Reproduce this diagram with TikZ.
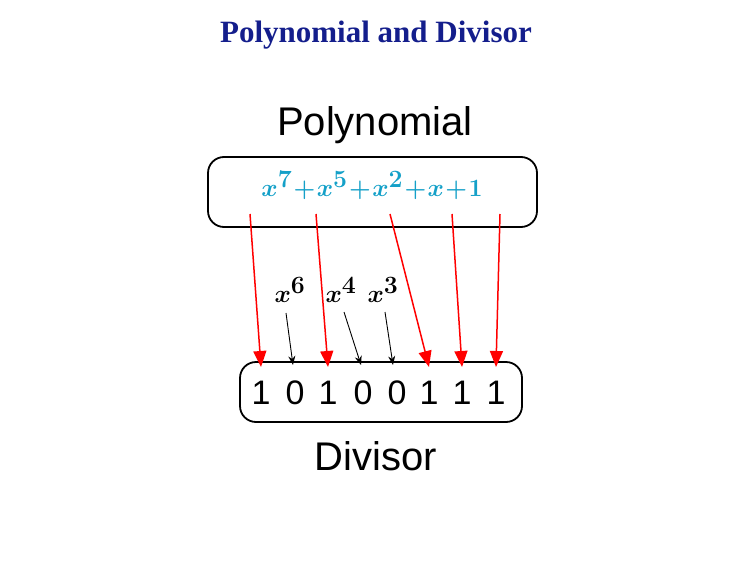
\documentclass[tikz,border=0pt]{standalone}
\usepackage{amsmath}
\usepackage{bm}
\usepackage{fontspec}
\setmainfont{Liberation Serif}
\setsansfont{Liberation Sans}
\usetikzlibrary{arrows.meta}
\definecolor{ttl}{RGB}{20,30,140}
\definecolor{teal}{RGB}{20,160,200}
\begin{document}
\begin{tikzpicture}[x=1pt,y=-1pt,
  rarr/.style={red,line width=1.5pt,-{Triangle[length=16pt,width=13pt]}},
  barr/.style={black,line width=0.9pt,-{Stealth[length=9pt,width=7pt]}},
  bx/.style={draw,line width=1.8pt,rounded corners=16pt},
  bit/.style={font=\sffamily\fontsize{34}{34}\selectfont,anchor=center},
  term/.style={font=\fontsize{33}{33}\selectfont,text=teal,inner sep=0pt},
  pw/.style={font=\fontsize{33}{33}\selectfont,inner sep=0pt}]
\useasboundingbox (0,0) rectangle (743,567);
\node[font=\bfseries\fontsize{31}{31}\selectfont,text=ttl] (title) at (376,35) {Polynomial and Divisor};
\node[font=\sffamily\fontsize{40}{40}\selectfont] (polylab) at (375,125) {Polynomial};
\node[bx,minimum width=329pt,minimum height=70pt] (pbox) at (372.5,192) {};
\node[term] (poly) at (372,186) {$\bm{x^7\!+\!x^5\!+\!x^2\!+\!x\!+\!1}$};
\node[bx,minimum width=282pt,minimum height=60pt] (dbox) at (381,392) {};
\foreach \i/\x/\b in {1/261/1,2/295/0,3/328/1,4/363/0,5/397/0,6/429/1,7/462/1,8/496/1}
  \node[bit] (b\i) at (\x,393) {\b};
\node[font=\sffamily\fontsize{40}{40}\selectfont] (div) at (376,456) {Divisor};
\node[pw] (x6) at (290,290) {$\bm{x^6}$};
\node[pw] (x4) at (341,290) {$\bm{x^4}$};
\node[pw] (x3) at (383,290) {$\bm{x^3}$};
\coordinate (s7) at (250,214); \coordinate (s5) at (316,214);
\coordinate (s2) at (390,214); \coordinate (s1) at (452,214); \coordinate (s0) at (500,214);
\coordinate (e1) at (261,367); \coordinate (e3) at (328,367); \coordinate (e6) at (429,367);
\coordinate (e7) at (462,367); \coordinate (e8) at (496,367);
\draw[rarr] (s7) -- (e1);
\draw[rarr] (s5) -- (e3);
\draw[rarr] (s2) -- (e6);
\draw[rarr] (s1) -- (e7);
\draw[rarr] (s0) -- (e8);
\draw[barr] (286,313) -- (293,365);
\draw[barr] (344,312) -- (361,365);
\draw[barr] (385,312) -- (393,365);
\end{tikzpicture}
\end{document}
